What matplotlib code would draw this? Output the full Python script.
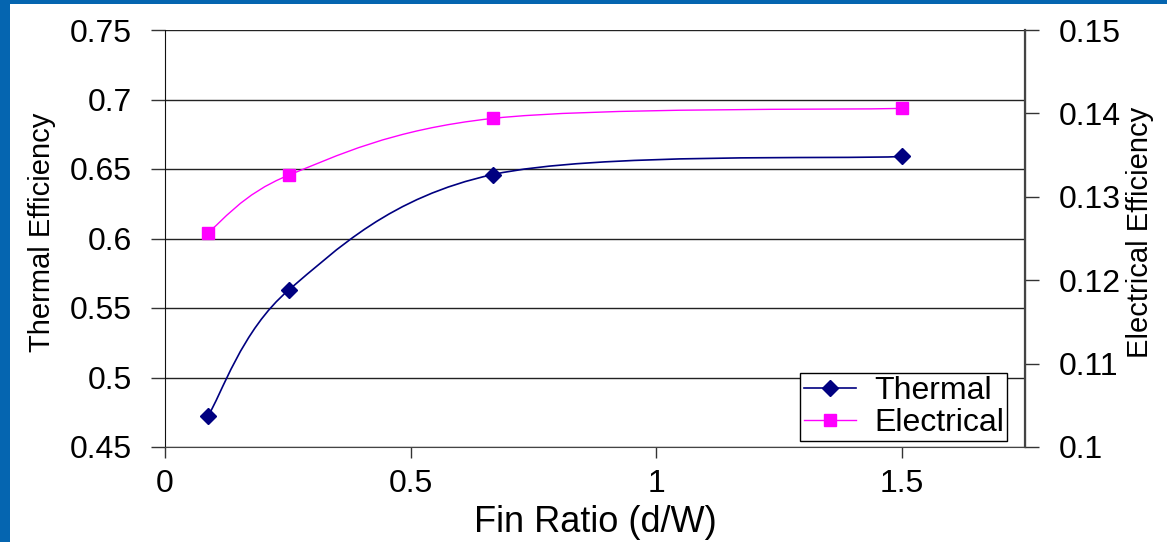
import matplotlib
matplotlib.use("Agg")
import matplotlib.pyplot as plt
from matplotlib.path import Path
from matplotlib.patches import PathPatch, Rectangle
from matplotlib.lines import Line2D
import numpy as np

plt.rcParams['font.family'] = ['Liberation Sans', 'DejaVu Sans']

# ---- data ----
fin_ratio = [0.087, 0.252, 0.667, 1.5]
thermal_eff = [0.472, 0.563, 0.646, 0.659]
electrical_eff = [0.1257, 0.1326, 0.1394, 0.1406]

left_ticks = [0.45, 0.5, 0.55, 0.6, 0.65, 0.7, 0.75]
right_ticks = [0.1, 0.11, 0.12, 0.13, 0.14, 0.15]
x_ticks = [0, 0.5, 1, 1.5]

THERMAL_C = '#000080'
ELEC_C = '#FF00FF'


def smooth_path(xs, ys):
    """Excel-style smoothed line as cubic Bezier path through the points."""
    pts = np.column_stack([xs, ys]).astype(float)
    n = len(pts)
    verts = [pts[0]]
    codes = [Path.MOVETO]
    for i in range(n - 1):
        p0 = pts[i - 1] if i > 0 else pts[i]
        p1 = pts[i]
        p2 = pts[i + 1]
        p3 = pts[i + 2] if i + 2 < n else pts[i + 1]
        c1 = p1 + (p2 - p0) / 6.0
        c2 = p2 - (p3 - p1) / 6.0
        verts += [c1, c2, p2]
        codes += [Path.CURVE4] * 3
    return Path(verts, codes)


fig = plt.figure(figsize=(11.67, 5.42), dpi=100)
# blue frame (left and top)
fig.patches.append(Rectangle((0, 0), 10 / 1167, 1, transform=fig.transFigure,
                             facecolor='#0565B0', edgecolor='none', zorder=-5))
fig.patches.append(Rectangle((0, 1 - 4 / 542), 1, 4 / 542, transform=fig.transFigure,
                             facecolor='#0565B0', edgecolor='none', zorder=-5))

ax = fig.add_axes([165 / 1167, 95 / 542, 860 / 1167, 417 / 542])
ax2 = ax.twinx()

# thermal
ax.add_patch(PathPatch(smooth_path(fin_ratio, thermal_eff), facecolor='none',
                       edgecolor=THERMAL_C, lw=1.2, zorder=3))
ax.plot(fin_ratio, thermal_eff, linestyle='none', marker='D', markersize=8,
        color=THERMAL_C, zorder=4)

# electrical
ax2.add_patch(PathPatch(smooth_path(fin_ratio, electrical_eff), facecolor='none',
                        edgecolor=ELEC_C, lw=1.0, zorder=3))
ax2.plot(fin_ratio, electrical_eff, linestyle='none', marker='s', markersize=8,
         color=ELEC_C, zorder=4)

ax.set_xlim(0, 1.75)
ax.set_ylim(0.45, 0.75)
ax2.set_ylim(0.1, 0.15)

ax.set_xticks(x_ticks)
ax.set_xticklabels([f'{v:g}' for v in x_ticks])
ax.set_yticks(left_ticks)
ax.set_yticklabels([f'{v:g}' for v in left_ticks])
ax2.set_yticks(right_ticks)
ax2.set_yticklabels([f'{v:g}' for v in right_ticks])

ax.yaxis.grid(True, color='#222222', lw=1.0)
ax.set_axisbelow(True)

for a in (ax, ax2):
    a.tick_params(axis='both', labelsize=23, direction='out', length=8,
                  width=1.0, color='#333333', pad=8)
    a.spines['top'].set_visible(False)
ax.spines['left'].set_color('#111111')
ax.spines['bottom'].set_color('#444444')
ax2.spines['right'].set_color('#444444')
ax2.spines['right'].set_linewidth(1.6)
ax2.spines['left'].set_visible(False)
ax2.spines['bottom'].set_visible(False)
ax.tick_params(axis='y', length=10, pad=14)
ax2.tick_params(axis='y', length=10, pad=14)
ax.tick_params(axis='x', pad=8)

ax.set_xlabel('Fin Ratio (d/W)', fontsize=26, labelpad=4)
fig.text(42 / 1167, 1 - 232 / 542, 'Thermal Efficiency', rotation=90,
         fontsize=21, ha='center', va='center')
fig.text(1140 / 1167, 1 - 232 / 542, 'Electrical Efficiency', rotation=90,
         fontsize=21, ha='center', va='center')

handles = [Line2D([], [], color=THERMAL_C, lw=1.2, marker='D', markersize=8),
           Line2D([], [], color=ELEC_C, lw=1.0, marker='s', markersize=8)]
leg = ax2.legend(handles, ['Thermal', 'Electrical'], loc='lower right',
                 bbox_to_anchor=(1007 / 1167, 101 / 542), bbox_transform=fig.transFigure,
                 fontsize=23, frameon=True, fancybox=False, framealpha=1,
                 edgecolor='black', numpoints=1, handlelength=1.65,
                 handletextpad=0.55, borderpad=0.1, labelspacing=0.05,
                 borderaxespad=0)
leg.get_frame().set_linewidth(1.0)
leg.set_zorder(10)

fig.savefig('out.png', dpi=100, facecolor='white')
